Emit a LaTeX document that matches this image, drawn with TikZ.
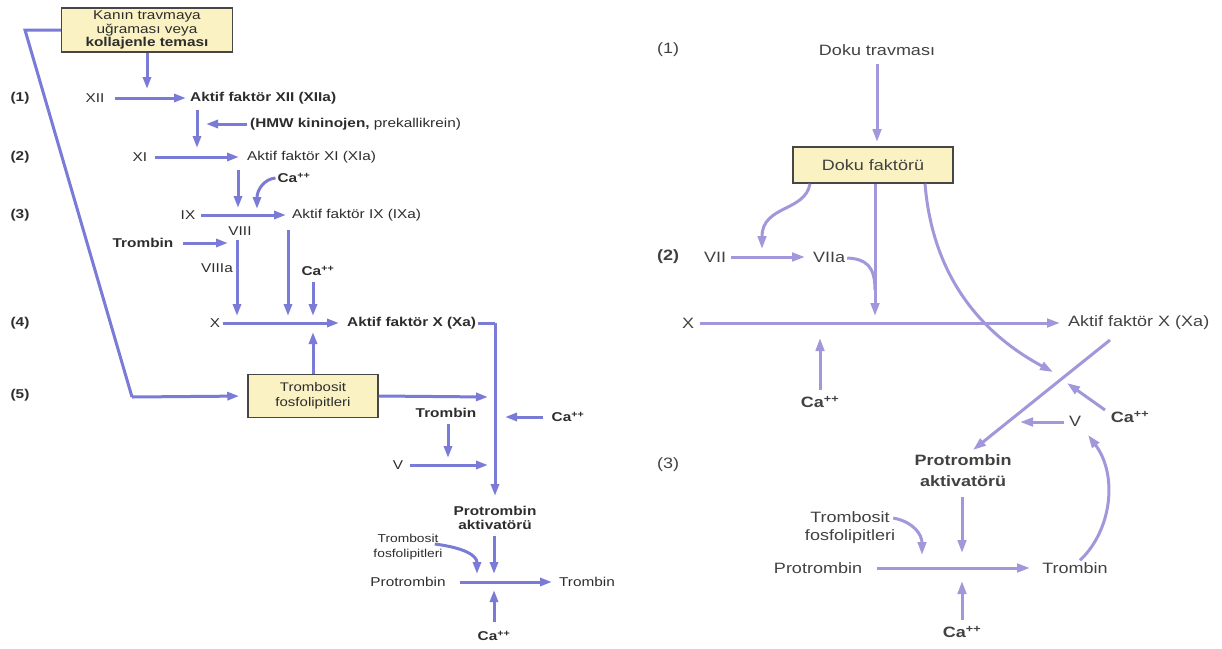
\documentclass[tikz,border=0pt]{standalone}
\usepackage{fontspec}
\setmainfont{Liberation Sans}
\newfontfamily\dfont[FakeStretch=1.2]{Liberation Sans}
\usetikzlibrary{arrows.meta}
\definecolor{lcol}{RGB}{122,122,215}
\definecolor{rcol}{RGB}{160,152,218}
\definecolor{boxfill}{RGB}{250,242,195}
\definecolor{boxline}{RGB}{70,70,70}
\definecolor{tcol}{RGB}{45,45,45}
\definecolor{rtcol}{RGB}{65,65,65}
\tikzset{
 larr/.style={draw=lcol,line width=3pt,-{Triangle[length=12pt,width=8pt]}},
 lline/.style={draw=lcol,line width=3pt},
 rarr/.style={draw=rcol,line width=3pt,-{Triangle[length=13pt,width=8.5pt]}},
 rline/.style={draw=rcol,line width=3pt},
 lt/.style={inner sep=0pt,text=tcol,align=center,font=\dfont\fontsize{12.8}{14}\selectfont},
 ltb/.style={inner sep=0pt,text=tcol,align=center,font=\dfont\bfseries\fontsize{12.8}{14}\selectfont},
 lts/.style={inner sep=0pt,text=tcol,align=center,font=\dfont\fontsize{11.5}{14.5}\selectfont},
 rt/.style={inner sep=0pt,text=rtcol,align=center,font=\dfont\fontsize{15}{21}\selectfont},
 rtb/.style={inner sep=0pt,text=rtcol,align=center,font=\dfont\bfseries\fontsize{15}{21}\selectfont},
 ybox/.style={draw=boxline,line width=1.5pt,fill=boxfill,align=center,inner sep=0pt},
}
\newcommand{\caa}{Ca\textsuperscript{++}}
\begin{document}
\begin{tikzpicture}[x=1pt,y=-1pt]
\useasboundingbox (0,0) rectangle (1222,648);
% ================= LEFT =================
\node[ybox,minimum width=171pt,minimum height=44pt,font=\dfont\fontsize{12.8}{13.5}\selectfont,text=tcol] (kbox) at (147,30) {Kanın travmaya\\uğraması veya\\\textbf{kollajenle teması}};
\node[ltb] (n1) at (20,98) {(1)};
\node[ltb] (n2) at (20,157) {(2)};
\node[ltb] (n3) at (20,215) {(3)};
\node[ltb] (n4) at (20,323) {(4)};
\node[ltb] (n5) at (20,395) {(5)};
\node[lt] (xii) at (95,98) {XII};
\node[ltb,anchor=west] (axii) at (190,98) {Aktif faktör XII (XIIa)};
\node[lt,anchor=west] (hmw) at (250,124) {\textbf{(HMW kininojen,} prekallikrein)};
\node[lt] (xi) at (140,157) {XI};
\node[lt,anchor=west] (axi) at (247,157) {Aktif faktör XI (XIa)};
\node[ltb] (ca1) at (294,178) {\caa};
\node[lt] (ix) at (188,215) {IX};
\node[lt,anchor=west] (aix) at (292,215) {Aktif faktör IX (IXa)};
\node[lt] (viii) at (240,231) {VIII};
\node[ltb] (tr1) at (143,243) {Trombin};
\node[lt] (viiia) at (217,268) {VIIIa};
\node[ltb] (ca2) at (318,271) {\caa};
\node[lt] (x1) at (215,323) {X};
\node[ltb,anchor=west] (ax1) at (347,323) {Aktif faktör X (Xa)};
\node[ybox,minimum width=130pt,minimum height=43pt,font=\dfont\fontsize{12.5}{15}\selectfont,text=tcol] (tbox) at (313,396) {Trombosit\\fosfolipitleri};
\node[ltb] (tr2) at (446,413) {Trombin};
\node[lt] (v1) at (398,465) {V};
\node[ltb] (ca3) at (568,417) {\caa};
\node[ltb] (pa1) at (495,518) {Protrombin\\aktivatörü};
\node[lts] (tf1) at (408,547) {Trombosit\\fosfolipitleri};
\node[lt] (pr1) at (408,582) {Protrombin};
\node[lt] (tr3) at (587,582) {Trombin};
\node[ltb] (ca4) at (494,636) {\caa};
% coordinates
\coordinate (c1) at (25,30);
\coordinate (c2) at (132,397);
\coordinate (k1) at (147,89);
\coordinate (xiiend) at (186,98);
\coordinate (d1a) at (197,110);
\coordinate (d1b) at (197,148);
\coordinate (h2) at (206,124);
\coordinate (xiend) at (239,157);
\coordinate (d2a) at (238,170);
\coordinate (d2b) at (238,208);
\coordinate (cab) at (257,209);
\coordinate (ixend) at (286,215);
\coordinate (trend) at (228,243);
\coordinate (d3a) at (237,240);
\coordinate (d3b) at (237,316);
\coordinate (d4a) at (288,230);
\coordinate (d4b) at (288,316);
\coordinate (d5a) at (313,282);
\coordinate (d5b) at (313,316);
\coordinate (xend) at (339,323);
\coordinate (tup) at (313,332);
\coordinate (axe) at (478,323);
\coordinate (corner) at (495,323);
\coordinate (vdown) at (495,496);
\coordinate (tright) at (488,397);
\coordinate (tr2a) at (448,424);
\coordinate (tr2b) at (448,458);
\coordinate (vend) at (488,465);
\coordinate (ca3a) at (543,417);
\coordinate (ca3end) at (505,417);
\coordinate (pa1a) at (494,536);
\coordinate (pa1b) at (494,574);
\coordinate (tf1b) at (477,574);
\coordinate (pra) at (460,582);
\coordinate (prb) at (552,582);
\coordinate (ca4a) at (494,622);
\coordinate (ca4b) at (494,590);
% connectors
\draw[lline] (kbox.west) -- (c1) -- (c2);
\draw[larr,shorten >=8pt] (c2) -- (tbox.west);
\draw[larr] (kbox.south) -- (k1);
\draw[larr] (xii.east) ++(10,0) -- (xiiend);
\draw[larr] (d1a) -- (d1b);
\draw[larr] (hmw.west) ++(-3,0) -- (h2);
\draw[larr] (xi.east) ++(8,0) -- (xiend);
\draw[larr] (d2a) -- (d2b);
\draw[larr] (ca1.west) ++(-2,0) .. controls (264,179) and (257,190) .. (cab);
\draw[larr] (ix.east) ++(6,0) -- (ixend);
\draw[larr] (tr1.east) ++(10,0) -- (trend);
\draw[larr] (d3a) -- (d3b);
\draw[larr] (d4a) -- (d4b);
\draw[larr] (d5a) -- (d5b);
\draw[larr] (x1.east) ++(3,0) -- (xend);
\draw[larr] (tbox.north) -- (tup);
\draw[lline] (axe) -- (corner);
\draw[larr] (corner) -- (vdown);
\draw[larr] (tbox.east) -- (tright);
\draw[larr] (tr2a) -- (tr2b);
\draw[larr] (v1.east) ++(7,0) -- (vend);
\draw[larr] (ca3a) -- (ca3end);
\draw[larr] (pa1a) -- (pa1b);
\draw[larr] (tf1.east) ++(-8,-3) .. controls (466,548) and (477,556) .. (tf1b);
\draw[larr] (pra) -- (prb);
\draw[larr] (ca4a) -- (ca4b);
% ================= RIGHT =================
\node[rt] (r1) at (668,50) {(1)};
\node[rt] (dt) at (877,50) {Doku travması};
\node[ybox,minimum width=160pt,minimum height=36pt,font=\dfont\fontsize{15}{18}\selectfont,text=rtcol] (dbox) at (873,165) {Doku faktörü};
\node[rtb] (r2) at (668,257) {(2)};
\node[rt] (vii) at (715,257) {VII};
\node[rt] (viia) at (829,257) {VIIa};
\node[rt] (x2) at (688,323) {X};
\node[rt,anchor=west] (ax2) at (1068,323) {Aktif faktör X (Xa)};
\node[rtb] (ca5) at (820,402) {\caa};
\node[rtb] (ca6) at (1130,417) {\caa};
\node[rt] (v2) at (1075,421) {V};
\node[rt] (r3) at (668,465) {(3)};
\node[rtb] (pa2) at (963,471) {Protrombin\\aktivatörü};
\node[rt,font=\dfont\fontsize{15}{18}\selectfont] (tf2) at (850,528) {Trombosit\\fosfolipitleri};
\node[rt] (pr2) at (818,568) {Protrombin};
\node[rt] (tr4) at (1075,568) {Trombin};
\node[rtb] (ca7) at (962,632) {\caa};
\coordinate (dtb) at (877,142);
\coordinate (lc) at (762,249);
\coordinate (viiend) at (805,257);
\coordinate (vtip) at (875,316);
\coordinate (vjoin) at (875,290);
\coordinate (xend2) at (1060,323);
\coordinate (ca5a) at (820,390);
\coordinate (ca5t) at (820,338);
\coordinate (rctip) at (1053,372);
\coordinate (xa1) at (1110,340);
\coordinate (xa2) at (973,450);
\coordinate (ca6a) at (1105,410);
\coordinate (ca6t) at (1067,383);
\coordinate (v2a) at (1064,422);
\coordinate (v2t) at (1020,422);
\coordinate (pa2a) at (962,497);
\coordinate (pa2t) at (962,553);
\coordinate (tf2t) at (922,555);
\coordinate (pra2) at (877,568);
\coordinate (prb2) at (1030,568);
\coordinate (ca7a) at (962,620);
\coordinate (ca7t) at (962,581);
\coordinate (vup) at (1088,435);
\draw[rarr] (dt.south) ++(0,8) -- (dtb);
\draw[rarr] (dbox.south) ++(-63,0) .. controls (805,212) and (762,205) .. (lc);
\draw[rarr] (vii.east) ++(5,0) -- (viiend);
\draw[rline] (viia.east) ++(2,1) .. controls (866,259) and (875,266) .. (vjoin);
\draw[rarr] (dbox.south) ++(2,0) -- (vtip);
\draw[rarr] (x2.east) ++(6,0) -- (xend2);
\draw[rarr] (ca5a) -- (ca5t);
\draw[rarr] (dbox.south) ++(52,0) .. controls (932,270) and (975,330) .. (rctip);
\draw[rarr] (xa1) -- (xa2);
\draw[rarr] (ca6a) -- (ca6t);
\draw[rarr] (v2a) -- (v2t);
\draw[rarr] (pa2a) -- (pa2t);
\draw[rarr] (tf2.east) ++(-2,-10) .. controls (914,522) and (922,535) .. (tf2t);
\draw[rarr] (pra2) -- (prb2);
\draw[rarr] (ca7a) -- (ca7t);
\draw[rarr] (tr4.north) ++(5,-2) .. controls (1112,530) and (1118,475) .. (vup);
\end{tikzpicture}
\end{document}
